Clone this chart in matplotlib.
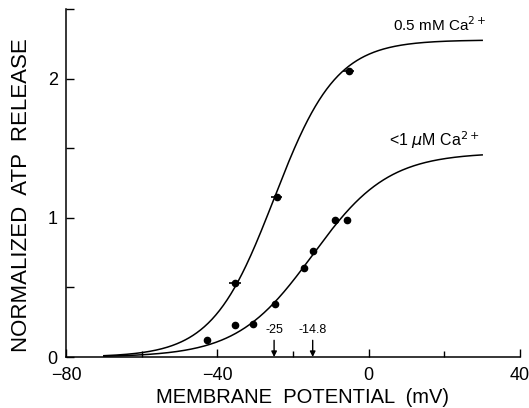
import numpy as np
import matplotlib
matplotlib.use("Agg")
import matplotlib.pyplot as plt

# Data
high_ca_v = [-35.3, -24.3, -5.3]
high_ca_y = [0.53, 1.15, 2.06]
high_ca_xerr = [1.5, 1.5, 1.5]

low_ca_v = [-42.8, -35.3, -30.6, -24.7, -17.2, -14.6, -9.0, -5.6]
low_ca_y = [0.12, 0.23, 0.235, 0.38, 0.64, 0.76, 0.985, 0.985]

# Boltzmann fit parameters: (max, V_half, slope)
high_fit = (2.28, -25.0, 8.2)
low_fit = (1.47, -14.8, 10.0)
fit_range = (-70, 30)

half_labels = ["-25", "-14.8"]
half_values = [-25.0, -14.8]

x_ticks = [-80, -40, 0, 40]
x_minor = [-60, -20, 20]
y_ticks = [0, 0.5, 1, 1.5, 2, 2.5]
y_ticklabels = ["0", "", "1", "", "2", ""]

plt.rcParams['font.family'] = ['Liberation Sans', 'DejaVu Sans']

fig = plt.figure(figsize=(5.29, 4.08), dpi=100)
ax = fig.add_axes([0.1248, 0.125, 0.8582, 0.852])

def boltz(v, p):
    m, vh, k = p
    return m / (1 + np.exp(-(v - vh) / k))

vv = np.linspace(fit_range[0], fit_range[1], 400)
ax.plot(vv, boltz(vv, high_fit), color='black', lw=1.1)
ax.plot(vv, boltz(vv, low_fit), color='black', lw=1.1)

ax.errorbar(high_ca_v, high_ca_y, xerr=high_ca_xerr, fmt='o', color='black',
            ms=4.5, elinewidth=1.2, capsize=0)
ax.plot(low_ca_v, low_ca_y, 'o', color='black', ms=4.5)

for lab, v in zip(half_labels, half_values):
    ax.annotate('', xy=(v, 0.0), xytext=(v, 0.12),
                arrowprops=dict(arrowstyle='-|>', color='black', lw=1.0,
                                mutation_scale=8, shrinkA=0, shrinkB=0))
    ax.text(v, 0.15, lab, ha='center', va='bottom', fontsize=9)

ax.text(6.3, 2.39, r'0.5 mM Ca$^{2+}$', fontsize=11, va='center', ha='left')
ax.text(5.4, 1.56, r'<1 $\mu$M Ca$^{2+}$', fontsize=11.5, va='center', ha='left')

ax.set_xlim(-80, 40)
ax.set_ylim(0, 2.5)
ax.set_xticks(x_ticks)
ax.set_xticklabels([str(t) if t >= 0 else '\u2212' + str(abs(t)) for t in x_ticks])
ax.set_xticks(x_minor, minor=True)
ax.set_yticks(y_ticks)
ax.set_yticklabels(y_ticklabels)
ax.tick_params(axis='both', which='both', direction='in', length=6, width=1,
               labelsize=13, pad=6)
ax.tick_params(axis='x', which='minor', length=4)
ax.tick_params(axis='x', which='major', pad=7)

for s in ['top', 'right']:
    ax.spines[s].set_visible(False)
for s in ['left', 'bottom']:
    ax.spines[s].set_linewidth(1.1)

ax.set_xlabel('MEMBRANE  POTENTIAL  (mV)', fontsize=14.5)
ax.xaxis.set_label_coords(0.52, -0.088)
ax.set_ylabel('NORMALIZED  ATP  RELEASE', fontsize=16)
ax.yaxis.set_label_coords(-0.075, 0.466)

fig.savefig('out.png', dpi=100)
